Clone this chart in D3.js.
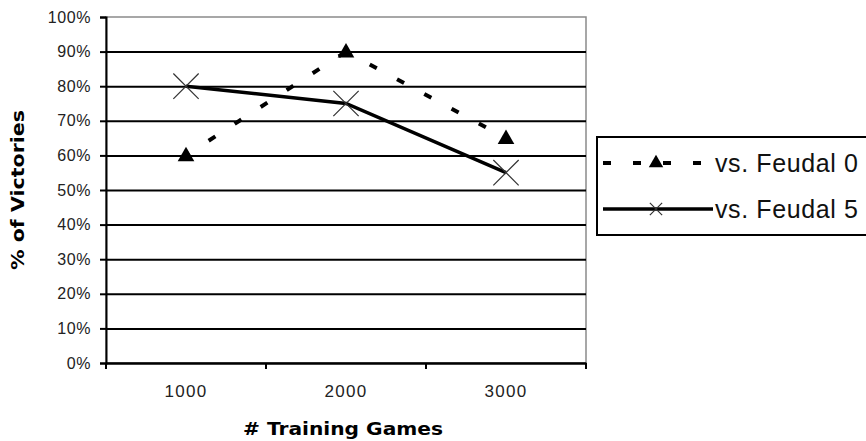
<!DOCTYPE html>
<html>
<head>
<meta charset="utf-8">
<script src="https://cdn.jsdelivr.net/npm/d3@7"></script>
<style>
  html, body { margin: 0; padding: 0; background: #fff; }
  svg { display: block; }
</style>
</head>
<body>
<svg id="chart" width="866" height="441"></svg>
<script>
// Training games (x categories)
const categories = ["1000", "2000", "3000"];
// Share of victories for each opponent
const feudal0 = [0.60, 0.90, 0.65];
const feudal5 = [0.80, 0.75, 0.55];
const seriesNames = ["vs. Feudal 0", "vs. Feudal 5"];
const yTicks = [0, 0.1, 0.2, 0.3, 0.4, 0.5, 0.6, 0.7, 0.8, 0.9, 1.0];
const xTitle = "# Training Games";
const yTitle = "% of Victories";

const svg = d3.select("#chart");
const plot = { left: 106, right: 586, top: 17, bottom: 363 };

const x = d3.scaleBand().domain(categories).range([plot.left, plot.right]);
const y = d3.scaleLinear().domain([0, 1]).range([plot.bottom, plot.top]);
const cx = c => x(c) + x.bandwidth() / 2;

// Plot area frame (grey top/right border)
svg.append("rect")
  .attr("x", plot.left).attr("y", plot.top)
  .attr("width", plot.right - plot.left).attr("height", plot.bottom - plot.top)
  .attr("fill", "none").attr("stroke", "#8a8a8a").attr("stroke-width", 1.5);

// Horizontal gridlines
const grid = svg.append("g").attr("transform", `translate(${plot.left},0)`)
  .call(d3.axisLeft(y).tickValues(yTicks.filter(v => v < 1)).tickSize(-(plot.right - plot.left)).tickFormat(""));
grid.select(".domain").remove();
grid.selectAll("line").attr("stroke", "#000").attr("stroke-width", 2);

// Y axis
const yAxis = svg.append("g").attr("transform", `translate(${plot.left},0)`)
  .call(d3.axisLeft(y).tickValues(yTicks).tickFormat(d3.format(".0%")).tickSize(6).tickPadding(9));
yAxis.select(".domain").attr("stroke", "#000").attr("stroke-width", 2);
yAxis.selectAll("line").attr("stroke", "#000").attr("stroke-width", 2);
yAxis.selectAll("text")
  .attr("font-family", "'Liberation Sans', Arial, sans-serif")
  .attr("font-size", 16).attr("letter-spacing", 0.6).attr("fill", "#222");

// X axis: line, category boundary ticks, labels
const xAxis = svg.append("g").attr("transform", `translate(0,${plot.bottom})`)
  .call(d3.axisBottom(x).tickSize(0).tickPadding(22));
xAxis.select(".domain").attr("stroke", "#000").attr("stroke-width", 2);
xAxis.selectAll("text")
  .attr("font-family", "'Liberation Sans', Arial, sans-serif")
  .attr("font-size", 17).attr("letter-spacing", 1.3).attr("fill", "#222");
const bounds = categories.map(c => x(c)).concat([x(categories[categories.length - 1]) + x.bandwidth()]);
svg.append("g").selectAll("line").data(bounds).join("line")
  .attr("x1", d => d).attr("x2", d => d)
  .attr("y1", plot.bottom).attr("y2", plot.bottom + 6)
  .attr("stroke", "#000").attr("stroke-width", 2);

// Axis titles
svg.append("text")
  .attr("x", 343).attr("y", 435)
  .attr("text-anchor", "middle")
  .attr("font-family", "'DejaVu Sans', sans-serif").attr("font-weight", "bold")
  .attr("font-size", 18).attr("textLength", 200).attr("lengthAdjust", "spacingAndGlyphs")
  .attr("fill", "#000").text(xTitle);
svg.append("text")
  .attr("transform", "translate(24,190) rotate(-90)")
  .attr("text-anchor", "middle")
  .attr("font-family", "'DejaVu Sans', sans-serif").attr("font-weight", "bold")
  .attr("font-size", 17).attr("textLength", 160).attr("lengthAdjust", "spacingAndGlyphs")
  .attr("fill", "#000").text(yTitle);

// Series: vs. Feudal 0 (dashed, triangles) — dash pattern restarts on each segment
const pts0 = categories.map((c, i) => [cx(c), y(feudal0[i])]);
svg.append("g").selectAll("path").data(d3.pairs(pts0)).join("path")
  .attr("d", d => d3.line()(d))
  .attr("fill", "none").attr("stroke", "#000").attr("stroke-width", 4)
  .attr("stroke-dasharray", "8,23").attr("stroke-dashoffset", 4);
svg.append("g").selectAll("path").data(pts0).join("path")
  .attr("transform", d => `translate(${d[0]},${d[1] + 1})`)
  .attr("d", d3.symbol(d3.symbolTriangle, 120)())
  .attr("fill", "#000");

// Series: vs. Feudal 5 (solid, x markers)
const pts5 = categories.map((c, i) => [cx(c), y(feudal5[i])]);
svg.append("path")
  .attr("d", d3.line()(pts5))
  .attr("fill", "none").attr("stroke", "#000").attr("stroke-width", 3.5);
svg.append("g").selectAll("path").data(pts5).join("path")
  .attr("transform", d => `translate(${d[0]},${d[1]})`)
  .attr("d", d3.symbol(d3.symbolTimes, 420)())
  .attr("fill", "none").attr("stroke", "#333").attr("stroke-width", 1.2);

// Legend
const lg = svg.append("g");
lg.append("rect")
  .attr("x", 597).attr("y", 137).attr("width", 290).attr("height", 98)
  .attr("fill", "#fff").attr("stroke", "#000").attr("stroke-width", 2);
const rows = [163, 209];
// row 1: dashed line with triangle
lg.append("line")
  .attr("x1", 603).attr("x2", 703).attr("y1", rows[0]).attr("y2", rows[0])
  .attr("stroke", "#000").attr("stroke-width", 4).attr("stroke-dasharray", "8,22");
lg.append("path")
  .attr("transform", `translate(656,${rows[0]})`)
  .attr("d", d3.symbol(d3.symbolTriangle, 90)())
  .attr("fill", "#000");
// row 2: solid line with x marker
lg.append("line")
  .attr("x1", 603).attr("x2", 713).attr("y1", rows[1]).attr("y2", rows[1])
  .attr("stroke", "#000").attr("stroke-width", 3.5);
lg.append("path")
  .attr("transform", `translate(656,${rows[1]})`)
  .attr("d", d3.symbol(d3.symbolTimes, 100)())
  .attr("fill", "none").attr("stroke", "#333").attr("stroke-width", 1.2);
lg.selectAll("text.lbl").data(seriesNames).join("text")
  .attr("class", "lbl")
  .attr("x", 715).attr("y", (d, i) => rows[i])
  .attr("dy", "0.36em")
  .attr("font-family", "'Liberation Sans', Arial, sans-serif")
  .attr("font-size", 25).attr("letter-spacing", 0.6)
  .attr("fill", "#111").text(d => d);
</script>
</body>
</html>
